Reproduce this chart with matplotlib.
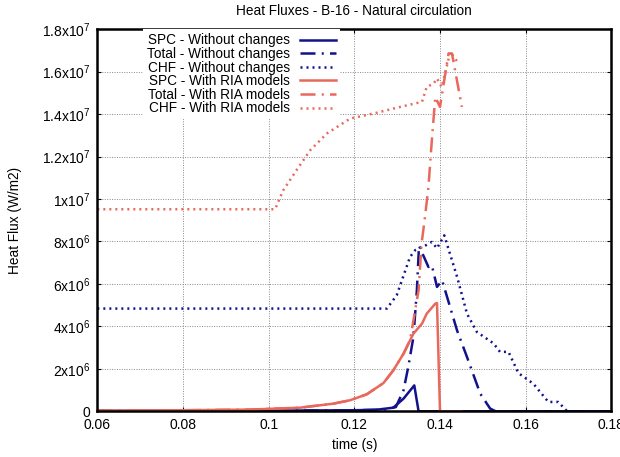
import numpy as np
import matplotlib
matplotlib.use("Agg")
import matplotlib.pyplot as plt

plt.rcParams['font.family'] = ['Liberation Sans', 'DejaVu Sans']
plt.rcParams['mathtext.fontset'] = 'custom'
plt.rcParams['mathtext.rm'] = 'Liberation Sans'
plt.rcParams['mathtext.it'] = 'Liberation Sans'

# --- data (time in s, flux in MW/m2) ---
spc_base_t = [0.06, 0.10, 0.12, 0.125, 0.1291, 0.1315, 0.134, 0.1350, 0.14, 0.18]
spc_base_v = [0.02, 0.03, 0.05, 0.07, 0.17, 0.6, 1.22, 0.0, 0.0, 0.0]

tot_base_t = [0.06, 0.10, 0.12, 0.127, 0.1297, 0.1315, 0.1326, 0.1338, 0.1346, 0.1351,
              0.1373, 0.1381, 0.1393, 0.1405, 0.144, 0.1463, 0.1494, 0.1517, 0.153, 0.18]
tot_base_v = [0.02, 0.03, 0.05, 0.08, 0.2, 1.0, 2.1, 3.5, 5.7, 7.8,
              6.8, 6.88, 5.86, 6.17, 3.8, 2.56, 0.83, 0.13, 0.0, 0.0]

chf_base_t = [0.06, 0.1276, 0.1299, 0.1315, 0.133, 0.1342, 0.1365, 0.1381, 0.1393, 0.141,
              0.144, 0.1463, 0.1486, 0.1525, 0.154, 0.156, 0.1583, 0.1618, 0.1653,
              0.1676, 0.1697, 0.18]
chf_base_v = [4.84, 4.84, 5.47, 6.4, 7.27, 7.59, 7.8, 7.98, 7.68, 8.29,
              6.33, 4.6, 3.74, 3.2, 2.8, 2.8, 1.8, 1.3, 0.44,
              0.44, 0.0, 0.0]

spc_ria_t = [0.06, 0.08, 0.0956, 0.1073, 0.1151, 0.119, 0.1229, 0.1268, 0.1291, 0.1315,
             0.1338, 0.1358, 0.1369, 0.1389, 0.1393, 0.1400, 0.1450]
spc_ria_v = [0.03, 0.05, 0.08, 0.17, 0.36, 0.52, 0.8, 1.33, 1.93, 2.72,
             3.66, 4.13, 4.6, 5.07, 5.1, 0.0, 0.0]

tot_ria_t = [0.06, 0.08, 0.0956, 0.1073, 0.1151, 0.119, 0.1229, 0.1268, 0.1291, 0.1315,
             0.133, 0.135, 0.1357, 0.1365, 0.1373, 0.1381, 0.1389, 0.14, 0.142, 0.1428,
             0.1451]
tot_ria_v = [0.03, 0.05, 0.08, 0.17, 0.36, 0.52, 0.8, 1.33, 1.93, 2.72,
             3.35, 5.7, 7.9, 9.16, 10.57, 12.77, 14.81, 14.34, 16.86, 16.86,
             14.34]

chf_ria_t = [0.06, 0.1015, 0.1034, 0.1065, 0.1097, 0.1136, 0.119, 0.1245, 0.1307, 0.1358,
             0.1369, 0.1385, 0.1393, 0.1404, 0.1424, 0.1443]
chf_ria_v = [9.52, 9.52, 10.41, 11.36, 12.3, 13.09, 13.79, 14.03, 14.34, 14.58,
             15.28, 15.44, 15.68, 15.28, 16.93, 16.4]

labels = ['SPC - Without changes', 'Total - Without changes', 'CHF - Without changes',
          'SPC - With RIA models', 'Total - With RIA models', 'CHF - With RIA models']

x_ticks = [0.06, 0.08, 0.1, 0.12, 0.14, 0.16, 0.18]
x_ticklabels = ['0.06', '0.08', '0.1', '0.12', '0.14', '0.16', '0.18']
y_ticks = [0, 2e6, 4e6, 6e6, 8e6, 1e7, 1.2e7, 1.4e7, 1.6e7, 1.8e7]
y_ticklabels = ['0', r'2x10$^{6}$', r'4x10$^{6}$', r'6x10$^{6}$', r'8x10$^{6}$',
                r'1x10$^{7}$', r'1.2x10$^{7}$', r'1.4x10$^{7}$', r'1.6x10$^{7}$', r'1.8x10$^{7}$']

navy = '#12128c'
salmon = '#e8695b'
dashdot = (0, (6, 2.5, 0.8, 2.5))
dots = (0, (0.8, 1.6))

fig, ax = plt.subplots(figsize=(6.2, 4.57), dpi=100)
fig.subplots_adjust(left=0.157, right=0.986, top=0.936, bottom=0.1)

sc = 1e6
ax.plot(spc_base_t, np.array(spc_base_v) * sc, color=navy, lw=1.8, label=labels[0])
ax.plot(tot_base_t, np.array(tot_base_v) * sc, color=navy, lw=1.8, ls=dashdot, label=labels[1])
ax.plot(chf_base_t, np.array(chf_base_v) * sc, color=navy, lw=1.8, ls=dots, label=labels[2])
ax.plot(spc_ria_t, np.array(spc_ria_v) * sc, color=salmon, lw=1.8, label=labels[3])
ax.plot(tot_ria_t, np.array(tot_ria_v) * sc, color=salmon, lw=1.8, ls=dashdot, label=labels[4])
ax.plot(chf_ria_t, np.array(chf_ria_v) * sc, color=salmon, lw=1.8, ls=dots, label=labels[5])

ax.set_xlim(0.06, 0.18)
ax.set_ylim(0, 1.8e7)
ax.set_xticks(x_ticks, x_ticklabels)
ax.set_yticks(y_ticks, y_ticklabels)
ax.tick_params(direction='in', top=True, right=True, length=3, labelsize=10)
ax.tick_params(axis='y', pad=5)
ax.tick_params(axis='x', pad=5)
ax.grid(True, color='#888888', ls=(0, (1, 1.5)), lw=0.7)
ax.set_axisbelow(True)
for s in ax.spines.values():
    s.set_linewidth(1.8)

ax.set_title('Heat Fluxes - B-16 - Natural circulation', fontsize=9.8, pad=10.5)
ax.set_xlabel('time (s)', fontsize=9.8, labelpad=4)
ax.set_ylabel('Heat Flux (W/m2)', fontsize=9.8, labelpad=14)

leg = ax.legend(loc='upper right', bbox_to_anchor=(0.473, 1.0), markerfirst=False,
                frameon=True, fancybox=False, edgecolor='none', facecolor='white',
                framealpha=1, fontsize=9.8, handlelength=2.65, handletextpad=0.75,
                labelspacing=-0.03, borderpad=0.3, borderaxespad=0)

plt.savefig('out.png', dpi=100)
